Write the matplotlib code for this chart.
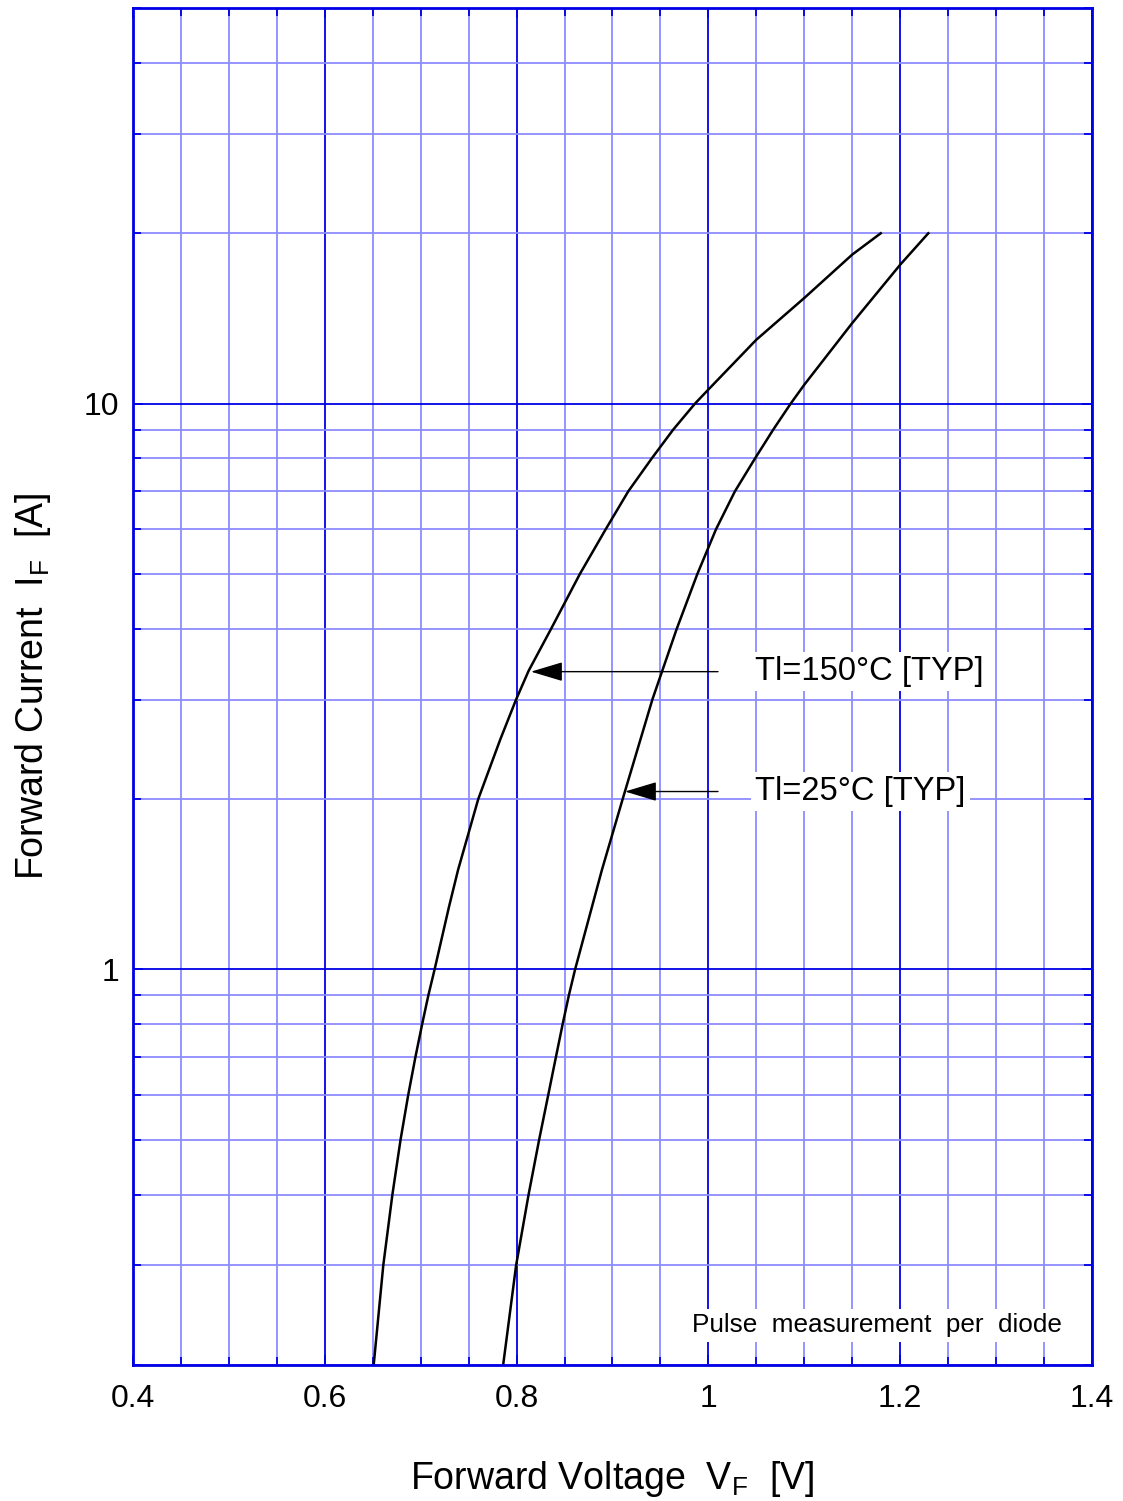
import matplotlib
matplotlib.use("Agg")
import matplotlib.pyplot as plt
from matplotlib.ticker import FixedLocator, LogLocator, NullFormatter, FixedFormatter

plt.rcParams['font.family'] = ['Liberation Sans', 'DejaVu Sans']

# Tl = 150 degC curve
if_150 = [0.2, 0.3, 0.4, 0.5, 0.6, 0.7, 0.8, 0.9, 1.0, 1.29,
          1.5, 1.72, 2, 2.55, 3, 3.37, 4, 5, 6, 7,
          8, 9, 10, 10.59, 12.97, 15.37, 18.34, 20]
vf_150 = [0.651, 0.661, 0.6705, 0.679, 0.687, 0.6945, 0.7015, 0.708, 0.7145, 0.7295,
          0.739, 0.749, 0.760, 0.783, 0.7995, 0.8125, 0.836, 0.866, 0.893, 0.9165,
          0.9409, 0.9634, 0.986, 1.0, 1.05, 1.1, 1.15, 1.1797]

# Tl = 25 degC curve
if_25 = [0.2, 0.3, 0.4, 0.5, 0.6, 0.7, 0.8, 0.9, 1, 1.5,
         2, 3, 4, 5, 6, 7, 8, 9, 10, 10.8,
         13.88, 17.6, 20]
vf_25 = [0.786, 0.7995, 0.8125, 0.8235, 0.833, 0.841, 0.848, 0.8545, 0.861, 0.889,
         0.9106, 0.9416, 0.967, 0.9885, 1.008, 1.0277, 1.0486, 1.0677, 1.0858, 1.1,
         1.15, 1.2, 1.2293]

labels = ["Tl=150°C [TYP]", "Tl=25°C [TYP]"]
arrow_heads = [(0.815, 3.36), (0.913, 2.063)]
arrow_tails = [(1.010, 3.36), (1.010, 2.063)]
label_x = 1.0486

x_major = [0.4, 0.6, 0.8, 1.0, 1.2, 1.4]
x_labels = ["0.4", "0.6", "0.8", "1", "1.2", "1.4"]
y_major = [1, 10]
y_labels = ["1", "10"]

light = '#8c8cff'
dark = '#0000e6'

fig = plt.figure(figsize=(11.23, 15.01), dpi=100)
ax = fig.add_axes([0.1184, 0.0906, 0.854, 0.904])

ax.set_yscale('log')
ax.set_xlim(0.4, 1.4)
ax.set_ylim(0.2, 50)

ax.xaxis.set_major_locator(FixedLocator(x_major))
ax.xaxis.set_major_formatter(FixedFormatter(x_labels))
ax.xaxis.set_minor_locator(FixedLocator([0.4 + 0.05 * i for i in range(21)]))
ax.yaxis.set_major_locator(FixedLocator(y_major))
ax.yaxis.set_major_formatter(FixedFormatter(y_labels))
ax.yaxis.set_minor_locator(LogLocator(base=10, subs=[2, 3, 4, 5, 6, 7, 8, 9]))
ax.yaxis.set_minor_formatter(NullFormatter())

ax.grid(which='minor', color=light, lw=1.3)
ax.grid(which='major', color=dark, lw=1.3)
ax.set_axisbelow(True)

for s in ax.spines.values():
    s.set_color(dark)
    s.set_linewidth(2)

ax.tick_params(which='both', direction='in', top=True, right=True,
               color=dark, width=1.3)
ax.tick_params(which='major', length=7)
ax.tick_params(which='minor', length=6)
ax.tick_params(axis='x', labelsize=23, pad=14)
ax.tick_params(axis='y', labelsize=23, pad=10)

ax.plot(vf_150, if_150, color='black', lw=1.8)
ax.plot(vf_25, if_25, color='black', lw=1.8)

for lab, head, tail in zip(labels, arrow_heads, arrow_tails):
    ax.annotate('', xy=head, xytext=tail,
                arrowprops=dict(arrowstyle='-|>,head_length=1.0,head_width=0.3',
                                color='black', lw=1.0, shrinkA=0, shrinkB=0,
                                mutation_scale=20))
    ax.text(label_x, head[1], lab, fontsize=23.5, va='center', ha='left',
            bbox=dict(facecolor='white', edgecolor='none', pad=3))

ax.text(1.3687, 0.235, "Pulse  measurement  per  diode", fontsize=18.8,
        ha='right', va='center',
        bbox=dict(facecolor='white', edgecolor='none', pad=3))

ax.set_xlabel("Forward Voltage  V$_\\mathregular{F}$  [V]", fontsize=27, labelpad=32)
ax.set_ylabel("Forward Current  I$_\\mathregular{F}$  [A]", fontsize=27, labelpad=22)

fig.savefig("out.png", dpi=100)
